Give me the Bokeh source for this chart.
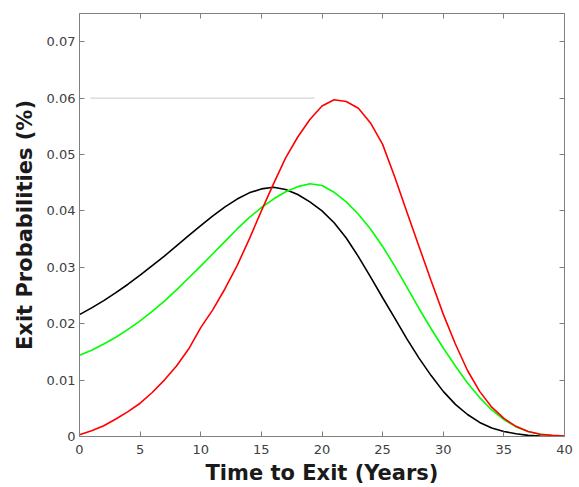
from bokeh.plotting import figure
from bokeh.models import Range1d, LinearAxis, FixedTicker, CustomJSTickFormatter
from bokeh.embed import file_html
from bokeh.resources import INLINE

years = list(range(41))
black_series = [0.0216, 0.0228, 0.0241, 0.0255, 0.0270, 0.0286, 0.0303, 0.0320, 0.0338, 0.0356,
                0.0374, 0.0391, 0.0407, 0.0421, 0.0432, 0.0439, 0.0442, 0.0438, 0.0429, 0.0416,
                0.0400, 0.0379, 0.0352, 0.0319, 0.0283, 0.0246, 0.0210, 0.0173, 0.0139, 0.0108,
                0.0080, 0.0057, 0.0039, 0.0025, 0.0015, 0.0009, 0.0005, 0.0002, 0.0001, 0.00003, 0.0]
green_series = [0.0144, 0.0153, 0.0164, 0.0176, 0.0190, 0.0205, 0.0222, 0.0240, 0.0260, 0.0281,
                0.0302, 0.0324, 0.0346, 0.0368, 0.0388, 0.0406, 0.0421, 0.0434, 0.0443, 0.0448,
                0.0445, 0.0433, 0.0416, 0.0394, 0.0368, 0.0337, 0.0302, 0.0265, 0.0227, 0.0191,
                0.0157, 0.0125, 0.0095, 0.0069, 0.0047, 0.0030, 0.0017, 0.0009, 0.0004, 0.0001, 0.0]
red_series = [0.0003, 0.0010, 0.0019, 0.0031, 0.0044, 0.0059, 0.0078, 0.0100, 0.0125, 0.0155,
              0.0193, 0.0225, 0.0262, 0.0303, 0.0350, 0.0400, 0.0448, 0.0494, 0.0531, 0.0562,
              0.0586, 0.0597, 0.0594, 0.0582, 0.0556, 0.0518, 0.0460, 0.0398, 0.0337, 0.0276,
              0.0217, 0.0164, 0.0117, 0.0080, 0.0052, 0.0032, 0.0018, 0.0009, 0.0004, 0.0002, 0.0001]

x_ticks = [0, 5, 10, 15, 20, 25, 30, 35, 40]
y_ticks = [0, 0.01, 0.02, 0.03, 0.04, 0.05, 0.06, 0.07]
ref_line_x = [0.9, 19.4]
ref_line_y = [0.06, 0.06]

AXIS_COLOR = "#808080"
LABEL_FONT = "DejaVu Sans"

p = figure(width=579, height=487,
           x_range=Range1d(0, 40), y_range=Range1d(0, 0.075),
           output_backend="svg", toolbar_location=None,
           min_border_left=79, min_border_right=15,
           min_border_top=13, min_border_bottom=51)
p.xgrid.visible = False
p.ygrid.visible = False
p.outline_line_color = None
p.background_fill_color = "white"
p.border_fill_color = "white"

# faint reference line visible in the original
p.line(ref_line_x, ref_line_y, line_color="#cccccc", line_width=1)

p.line(years, black_series, line_color="#000000", line_width=1.6)
p.line(years, green_series, line_color="#00ff00", line_width=1.6)
p.line(years, red_series, line_color="#ff0000", line_width=1.6)

yfmt = CustomJSTickFormatter(code="return tick == 0 ? '0' : tick.toFixed(2);")

def style(ax, ticks, show_labels):
    ax.ticker = FixedTicker(ticks=ticks)
    ax.minor_tick_line_color = None
    ax.major_tick_in = 5
    ax.major_tick_out = 0
    ax.axis_line_color = AXIS_COLOR
    ax.major_tick_line_color = AXIS_COLOR
    ax.axis_line_width = 1
    if show_labels:
        ax.major_label_text_font = LABEL_FONT
        ax.major_label_text_font_size = "13px"
        ax.major_label_text_color = "#404040"
        ax.major_label_standoff = 4
    else:
        ax.major_label_text_font_size = "1px"
        ax.major_label_text_color = None
        ax.major_label_standoff = 0

xb = p.below[0]
style(xb, x_ticks, True)
xb.major_label_standoff = 8
xb.axis_label = "Time to Exit (Years)"
xb.axis_label_text_font = LABEL_FONT
xb.axis_label_text_font_style = "bold"
xb.axis_label_text_font_size = "21px"
xb.axis_label_text_color = "#1a1a1a"
xb.axis_label_standoff = 4

yl = p.left[0]
style(yl, y_ticks, True)
yl.formatter = yfmt
yl.axis_label = "Exit Probabilities (%)"
yl.axis_label_text_font = LABEL_FONT
yl.axis_label_text_font_style = "bold"
yl.axis_label_text_font_size = "21px"
yl.axis_label_text_color = "#1a1a1a"
yl.axis_label_standoff = 7

xa = LinearAxis()
style(xa, x_ticks, False)
p.add_layout(xa, "above")

yr = LinearAxis()
style(yr, y_ticks, False)
p.add_layout(yr, "right")

open("out.html", "w").write(file_html(p, INLINE))
